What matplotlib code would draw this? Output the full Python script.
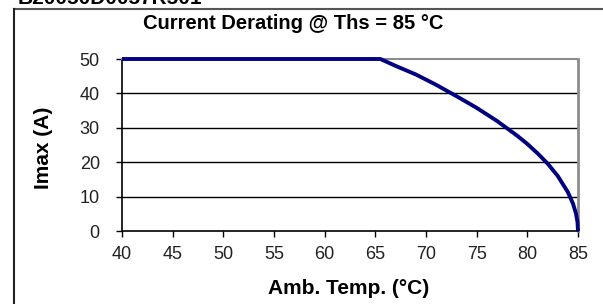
import matplotlib
matplotlib.use("Agg")
import matplotlib.pyplot as plt
from matplotlib.lines import Line2D

temp = [40, 50, 60, 65.5, 67, 69, 71, 73, 75, 77, 79, 80, 81, 82, 83, 84, 84.5, 84.8, 84.95, 85]
imax = [50, 50, 50, 50, 48, 45.5, 42.5, 39.2, 35.8, 32, 27.7, 25.3, 22.6, 19.6, 16, 11.3, 8, 5.1, 2.6, 0]
xticks = [40, 45, 50, 55, 60, 65, 70, 75, 80, 85]
yticks = [0, 10, 20, 30, 40, 50]

plt.rcParams['font.family'] = ['Liberation Sans', 'DejaVu Sans']

fig = plt.figure(figsize=(6.03, 3.04), dpi=100)
W, H = 603, 304
ax = fig.add_axes([122 / W, 1 - 231 / H, (578 - 122) / W, (231 - 59) / H])

for y in yticks[1:-1]:
    ax.axhline(y, color='black', lw=1.0, zorder=1)
ax.plot(temp, imax, color='#000080', lw=2.8, solid_capstyle='butt', zorder=3, clip_on=False)

ax.set_xlim(40, 85)
ax.set_ylim(0, 50)
ax.set_xticks(xticks)
ax.set_yticks(yticks)
ax.tick_params(axis='both', direction='out', length=4, width=1, colors='black',
               labelsize=13, labelcolor='#222222')
ax.tick_params(axis='y', pad=12)
ax.tick_params(axis='x', pad=7)
ax.spines['left'].set_color('black')
ax.spines['bottom'].set_color('black')
ax.spines['left'].set_linewidth(1.2)
ax.spines['bottom'].set_linewidth(1.2)
ax.spines['top'].set_color('#8c8c8c')
ax.spines['right'].set_color('#8c8c8c')
ax.spines['top'].set_linewidth(1.5)
ax.spines['right'].set_linewidth(2.0)

fig.text(349 / W, 1 - 288 / H, 'Amb. Temp. (°C)', ha='center', va='center',
         fontsize=15, fontweight='bold')
fig.text(43.5 / W, 1 - 148 / H, 'Imax (A)', ha='center', va='center', rotation=90,
         fontsize=15, fontweight='bold')

fig.text(293 / W, 1 - 29 / H, 'Current Derating @ Ths = 85 °C', ha='center', va='baseline',
         fontsize=14.5, fontweight='bold')

# cut-off header text at top
fig.text(18 / W, 1 - 4 / H, 'B20050D0057R501', ha='left', va='baseline',
         fontsize=15, fontweight='bold')

# outer chart frame (top and left edges visible)
fig.add_artist(Line2D([14 / W, 1.0], [1 - 9 / H, 1 - 9 / H], transform=fig.transFigure,
                      color='#555555', lw=1.5))
fig.add_artist(Line2D([14 / W, 14 / W], [0, 1 - 9 / H], transform=fig.transFigure,
                      color='#222222', lw=1.5))

fig.savefig('out.png', dpi=100)
